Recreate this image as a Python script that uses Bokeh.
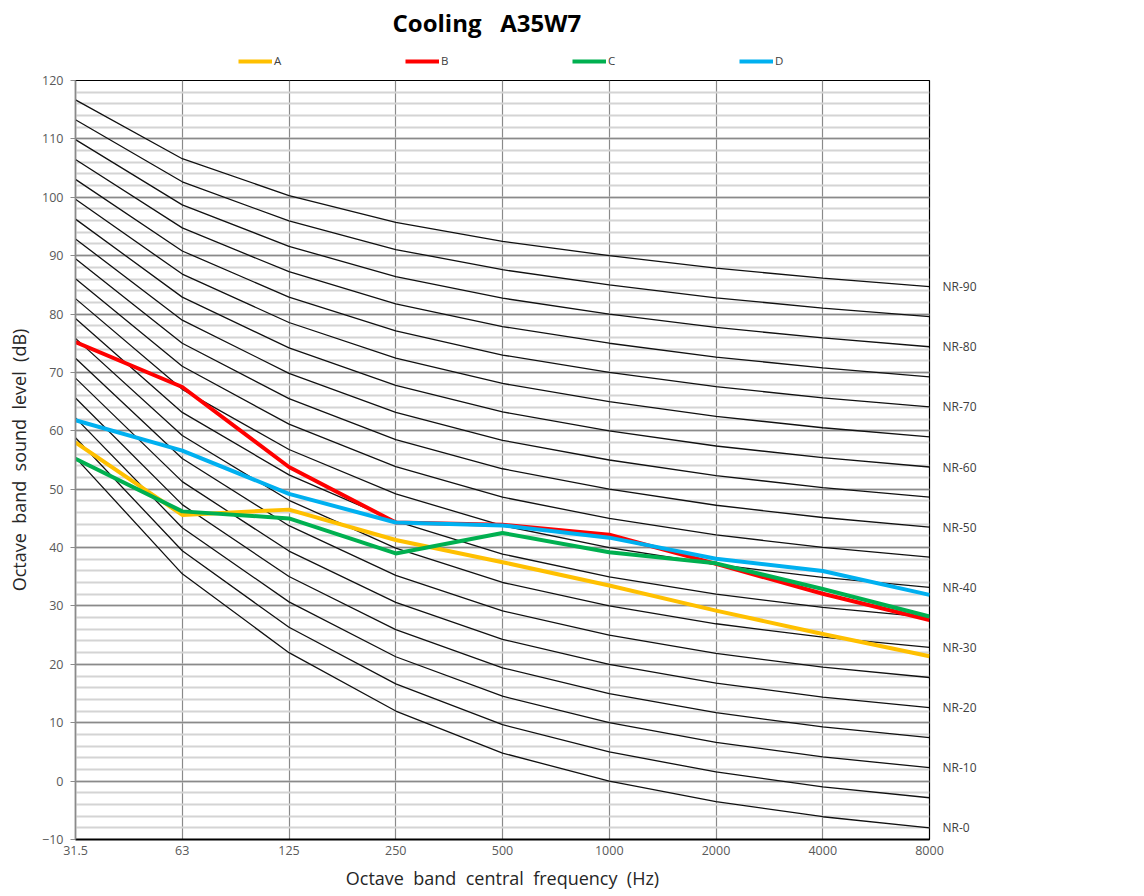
from bokeh.plotting import figure
from bokeh.layouts import column
from bokeh.models import (Range1d, SingleIntervalTicker, FixedTicker, LinearAxis,
                          Legend, LegendItem, Label)
from bokeh.embed import file_html
from bokeh.resources import INLINE

# Octave bands (Hz)
bands = ["31.5", "63", "125", "250", "500", "1000", "2000", "4000", "8000"]

# Measured octave band sound levels (dB)
series_names = ["A", "B", "C", "D"]
level_A = [58.0, 45.6, 46.5, 41.3, 37.5, 33.5, 29.2, 25.2, 21.4]
level_B = [75.2, 67.5, 53.8, 44.3, 43.9, 42.2, 37.2, 32.1, 27.6]
level_C = [55.2, 46.2, 45.0, 39.0, 42.5, 39.2, 37.3, 32.9, 28.2]
level_D = [61.8, 56.6, 49.2, 44.3, 43.8, 41.7, 38.1, 36.0, 31.9]
series_colors = ["#FFC000", "#FF0000", "#00B050", "#00B0F0"]

# Noise Rating curve coefficients per band (L = a + b * NR)
nr_a = [55.4, 35.5, 22.0, 12.0, 4.8, 0.0, -3.5, -6.1, -8.0]
nr_b = [0.681, 0.790, 0.870, 0.930, 0.974, 1.000, 1.015, 1.025, 1.030]
nr_levels = [0, 5, 10, 15, 20, 25, 30, 35, 40, 45, 50, 55, 60, 65, 70, 75, 80, 85, 90]
nr_labelled = [0, 10, 20, 30, 40, 50, 60, 70, 80, 90]

FONT = "Open Sans"
SP = "\u00a0 "   # wide word gap
xs = list(range(len(bands)))
levels = [level_A, level_B, level_C, level_D]

W, H_HEAD, H_MAIN = 1144, 70, 826
LEFT, RIGHT = 75, 215
FRAME_W = W - LEFT - RIGHT

# ---- header strip: title and legend (pixel-like coordinates) ----
head = figure(width=W, height=H_HEAD,
              x_range=Range1d(LEFT, LEFT + FRAME_W), y_range=Range1d(0, H_HEAD),
              output_backend="svg", toolbar_location=None,
              x_axis_location=None, y_axis_location=None,
              min_border_left=LEFT, min_border_right=RIGHT,
              min_border_top=0, min_border_bottom=0, outline_line_color=None)
head.grid.visible = False

head.add_layout(Label(x=392, y=H_HEAD - 22, text="Cooling\u00a0\u00a0\u00a0A35W7",
                      text_align="left", text_baseline="middle",
                      text_font=FONT, text_font_size="24px",
                      text_font_style="bold", text_color="#000000"))

# legend keys: the series drawn in band-index space, which lies outside this strip's view
key_items = []
for name, lv, col in zip(series_names, levels, series_colors):
    r = head.line(xs, lv, line_color=col, line_width=4)
    key_items.append(LegendItem(label=name, renderers=[r]))

head.add_layout(Legend(items=key_items, orientation="horizontal",
                       location=(238 - LEFT, 2), padding=0, margin=0, spacing=121,
                       glyph_width=34, glyph_height=12, label_height=12, label_width=10,
                       label_standoff=2, label_text_font=FONT,
                       label_text_font_size="11.5px", label_text_color="#404040",
                       border_line_color=None, background_fill_alpha=0))

# ---- main chart ----
p = figure(width=W, height=H_MAIN,
           x_range=Range1d(0, len(bands) - 1), y_range=Range1d(-10, 120),
           output_backend="svg", toolbar_location=None,
           min_border_left=LEFT, min_border_right=RIGHT,
           min_border_top=80 - H_HEAD, min_border_bottom=57,
           background_fill_color="white", border_fill_color="white")

# grid
p.xaxis.ticker = FixedTicker(ticks=xs)
p.xgrid.ticker = FixedTicker(ticks=xs)
p.xgrid.grid_line_color = "#8a8a8a"
p.xgrid.grid_line_width = 1.2
yticker = SingleIntervalTicker(interval=10, num_minor_ticks=5)
p.yaxis.ticker = yticker
p.ygrid.ticker = yticker
p.ygrid.grid_line_color = "#8a8a8a"
p.ygrid.grid_line_width = 1.5
p.ygrid.minor_grid_line_color = "#d4d4d4"
p.ygrid.minor_grid_line_width = 2

p.outline_line_color = "#000000"
p.outline_line_width = 1.2

# axes
p.xaxis.major_label_overrides = {i: b for i, b in enumerate(bands)}
p.xaxis.major_tick_line_color = None
p.xaxis.minor_tick_line_color = None
p.xaxis.major_tick_out = 0
p.xaxis.major_label_standoff = 6
p.xaxis.axis_line_color = "#000000"
p.xaxis.axis_line_width = 2
p.xaxis.axis_label = SP.join(["Octave", "band", "central", "frequency", "(Hz)"])
p.xaxis.axis_label_standoff = 8

p.yaxis.major_tick_out = 5
p.yaxis.major_tick_in = 0
p.yaxis.major_tick_line_color = "#8a8a8a"
p.yaxis.minor_tick_line_color = None
p.yaxis.axis_line_color = "#8a8a8a"
p.yaxis.axis_line_width = 1.5
p.yaxis.major_label_standoff = 7
p.yaxis.axis_label = SP.join(["Octave", "band", "sound", "level", "(dB)"])
p.yaxis.axis_label_standoff = 8

# NR labels on the right edge, placed at each curve's 8 kHz level
nr_end = [nr_a[-1] + nr_b[-1] * n for n in nr_labelled]
nr_axis = LinearAxis(ticker=FixedTicker(ticks=nr_end),
                     major_label_overrides={v: "NR-%d" % n for v, n in zip(nr_end, nr_labelled)},
                     axis_line_color=None, major_tick_line_color=None,
                     minor_tick_line_color=None, major_tick_out=0, major_tick_in=0,
                     major_label_standoff=13)
p.add_layout(nr_axis, "right")

for ax in (p.xaxis[0], p.yaxis[0], nr_axis):
    ax.major_label_text_font = FONT
    ax.major_label_text_font_size = "12.5px"
    ax.major_label_text_color = "#595959"
    ax.axis_label_text_font = FONT
    ax.axis_label_text_font_size = "18px"
    ax.axis_label_text_font_style = "normal"
    ax.axis_label_text_color = "#262626"
nr_axis.major_label_text_font_size = "12px"
nr_axis.major_label_text_color = "#404040"

# NR reference curves
nr_xs = [xs for _ in nr_levels]
nr_ys = [[a + b * n for a, b in zip(nr_a, nr_b)] for n in nr_levels]
p.multi_line(xs=nr_xs, ys=nr_ys, line_color="#111111", line_width=1.3)

# measured spectra
for lv, col in zip(levels, series_colors):
    p.line(xs, lv, line_color=col, line_width=4, line_join="round")

layout = column(head, p, spacing=0)
open("out.html", "w").write(file_html(layout, INLINE))
